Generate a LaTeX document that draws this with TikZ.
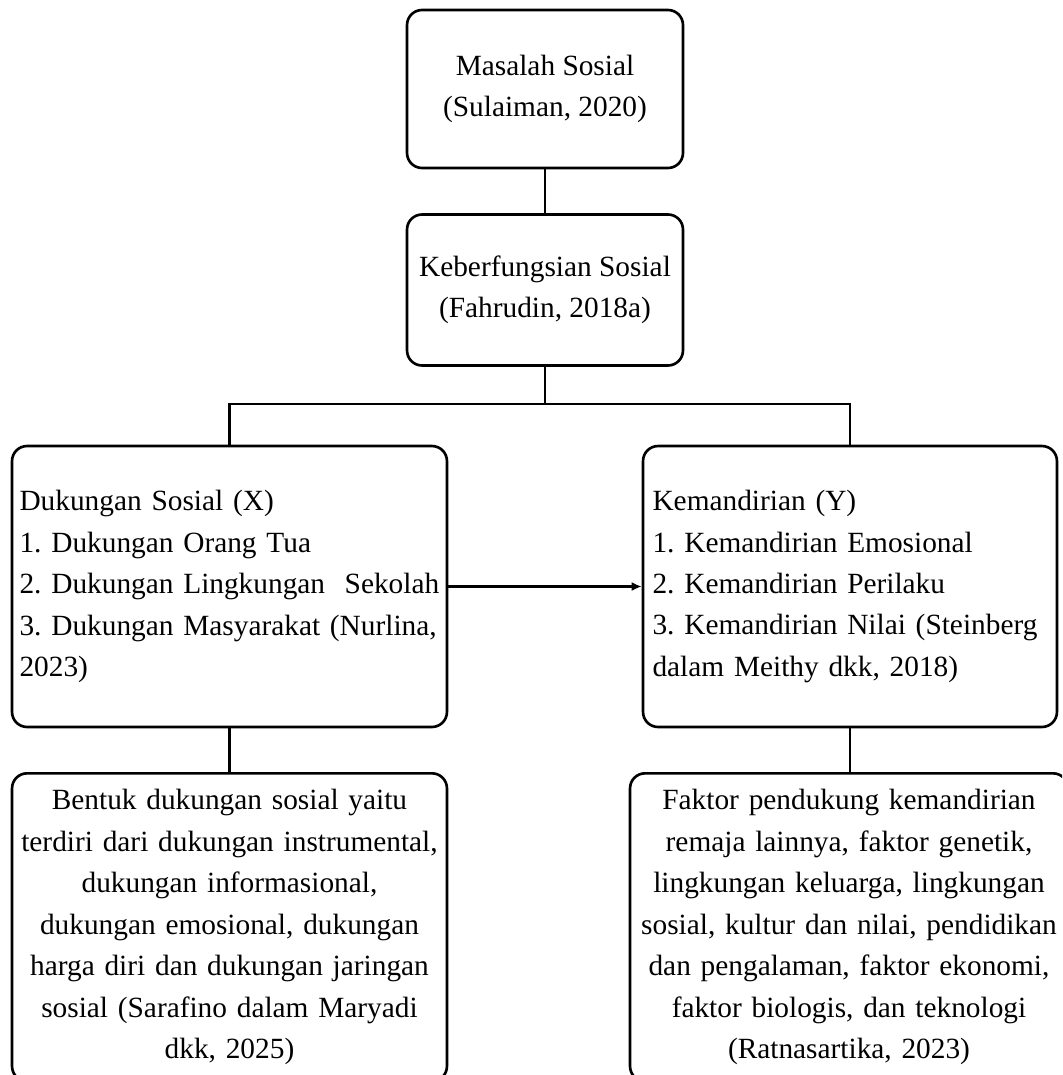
\documentclass[tikz,border=0pt]{standalone}
\usepackage{fontspec}
\setmainfont{Liberation Serif}
\usetikzlibrary{arrows.meta, positioning}
\frenchspacing

\begin{document}
\begin{tikzpicture}[
      x=0.02cm, y=-0.02cm,
      line width=1.5pt,
      font=\fontsize{16.7}{23.6}\selectfont,
      box/.style={rectangle, draw, rounded corners=0.3cm, align=center},
      listbox/.style={box, align=left, text width=8.4cm, inner xsep=0.15cm, minimum height=5.62cm},
      descbox/.style={box, inner xsep=0.1cm, minimum height=6.16cm, anchor=north},
      >={Latex[length=0.2cm, width=0.18cm]}
    ]
    \clip (0,0) rectangle (1062,1075);

    % Top
    \node[box, minimum width=5.52cm, minimum height=3.16cm] (masalah) at (545,89) {Masalah Sosial\\(Sulaiman, 2020)};
    \node[box, minimum width=5.52cm, minimum height=3.02cm] (fungsi) at (545,290) {Keberfungsian Sosial\\(Fahrudin, 2018a)};
    \coordinate (split) at (545,404);

    % Variables
    \node[listbox] (dukungan) at (229.5,586.5) {Dukungan Sosial (X)\\1. Dukungan Orang Tua\\2. Dukungan Lingkungan~ Sekolah\\3. Dukungan Masyarakat (Nurlina,\\2023)};
    \node[listbox, text width=7.9cm, inner xsep=0.19cm] (mandiri) at (850,586.5) {Kemandirian (Y)\\1. Kemandirian Emosional\\2. Kemandirian Perilaku\\3. Kemandirian Nilai (Steinberg\\dalam Meithy dkk, 2018)};

    % Descriptions
    \node[descbox, text width=8.5cm] (bentuk) at (229.5,772) {Bentuk dukungan sosial yaitu\\terdiri dari dukungan instrumental,\\dukungan informasional,\\dukungan emosional, dukungan\\harga diri dan dukungan jaringan\\sosial (Sarafino dalam Maryadi\\dkk, 2025)};
    \node[descbox, text width=8.56cm] (faktor) at (849,772) {Faktor pendukung kemandirian\\remaja lainnya, faktor genetik,\\lingkungan keluarga, lingkungan\\sosial, kultur dan nilai, pendidikan\\dan pengalaman, faktor ekonomi,\\faktor biologis, dan teknologi\\(Ratnasartika, 2023)};

    % Connections
    \draw (masalah) -- (fungsi);
    \draw (fungsi) -- (split);
    \draw (dukungan) |- (split) -| (mandiri);
    \draw[->] (dukungan) -- (mandiri);
    \draw (dukungan) -- (dukungan |- bentuk.north);
    \draw (mandiri) -- (mandiri |- faktor.north);

\end{tikzpicture}
\end{document}
